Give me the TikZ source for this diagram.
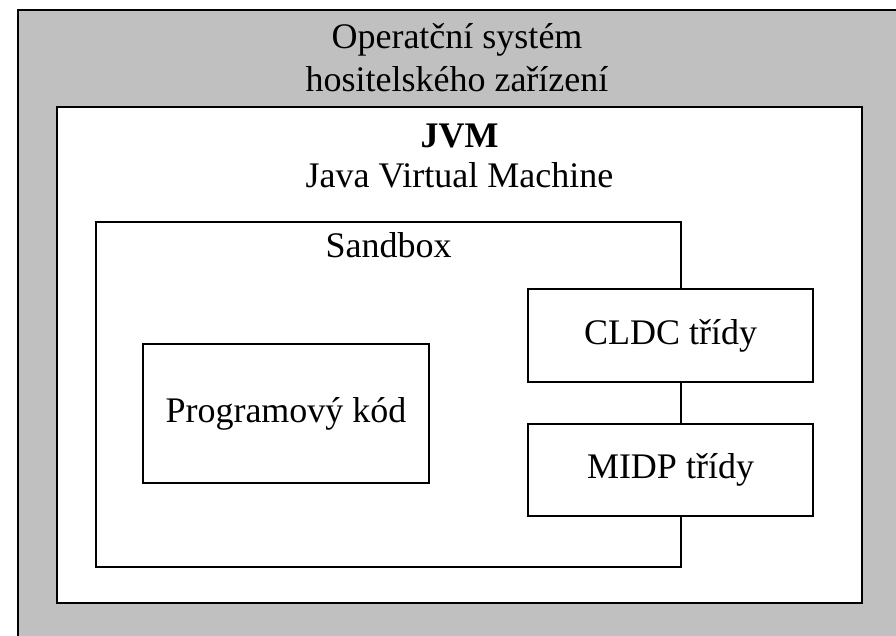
\documentclass[tikz,border=0pt]{standalone}
\usepackage{fontspec}
\setmainfont{Liberation Serif}
\usetikzlibrary{positioning}
\definecolor{osgray}{RGB}{192,192,192}

\begin{document}
\begin{tikzpicture}[x=1pt, y=-1pt, line width=2pt,
    box/.style={draw, fill=white, inner sep=0pt, font=\fontsize{36}{40}\selectfont},
    caption/.style={inner sep=0pt, align=center, font=\fontsize{36}{43}\selectfont}]
    \useasboundingbox (0,0) rectangle (896,636);
    % layers, outer to inner
    \node[box, fill=osgray, minimum width=890pt, minimum height=640pt] (os) at (463,330) {};
    \node[box, minimum width=805pt, minimum height=496pt] (jvm) at (459.5,355) {};
    \node[box, minimum width=585pt, minimum height=345pt] (sandbox) at (388.5,394.5) {};
    \node[box, minimum width=286pt, minimum height=139pt] (kod) at (286,413.5) {Programový kód};
    \node[box, minimum width=285pt, minimum height=93pt] (cldc) at (670.5,335.5) {CLDC třídy};
    \node[box, minimum width=285pt, minimum height=92pt] (midp) at (670.5,470) {MIDP třídy};
    % captions
    \node[caption, below=13pt of os.north, xshift=-6pt] (ostext) {Operatční systém\\hositelského zařízení};
    \node[caption, below=17pt of jvm.north, font=\fontsize{36}{40}\selectfont] (jvmtext) {\textbf{JVM}\\Java Virtual Machine};
    \node[caption, below=11pt of sandbox.north] (sandboxtext) {Sandbox};
\end{tikzpicture}
\end{document}
